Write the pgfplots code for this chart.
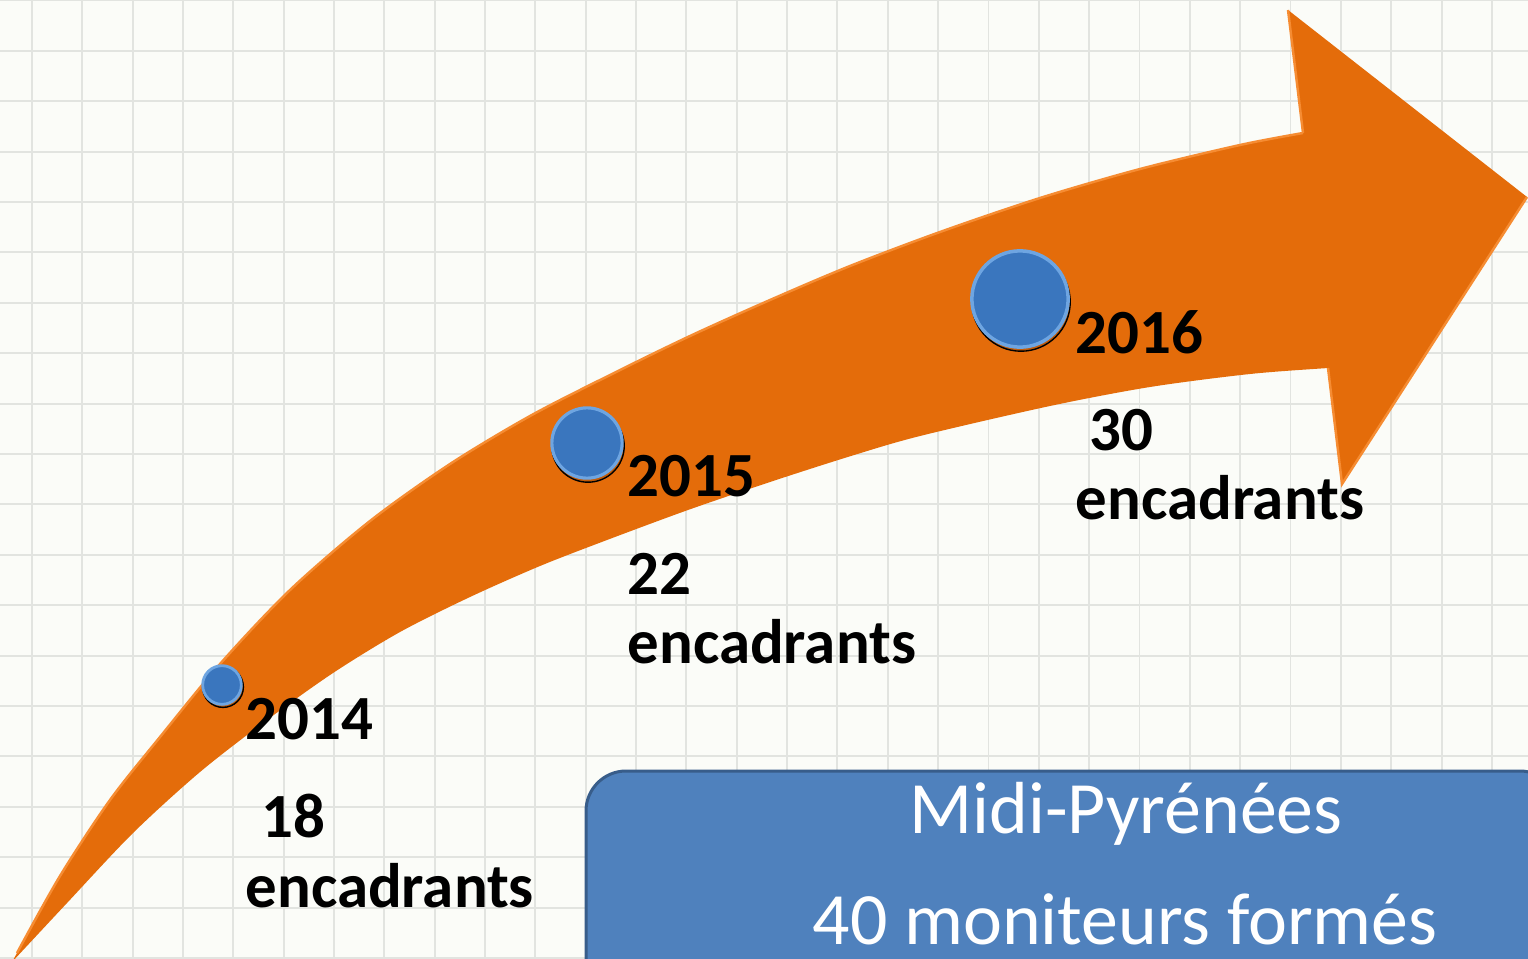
\documentclass[border=0pt]{standalone}
\usepackage{pgfplots}
\pgfplotsset{compat=1.18}
\usepackage{fontspec}
\setmainfont{Carlito}
\definecolor{bgc}{RGB}{251,252,248}
\definecolor{gridc}{RGB}{226,228,224}
\definecolor{arrowc}{RGB}{228,108,10}
\definecolor{arrowhl}{RGB}{246,140,50}
\definecolor{ballc}{RGB}{58,118,190}
\definecolor{ballrim}{RGB}{110,165,225}
\definecolor{boxc}{RGB}{79,129,189}
\definecolor{boxb}{RGB}{56,93,138}
\begin{document}
\begin{tikzpicture}
\begin{axis}[
  scale only axis, width=15.28cm, height=9.58cm,
  xmin=0, xmax=1528, ymin=0, ymax=958, y dir=reverse,
  axis background/.style={fill=bgc},
  axis line style={draw=none},
  tick style={draw=none},
  xticklabels={}, yticklabels={},
  xtick={32,82.34,...,1528},
  ytick={0.4,50.8,...,958},
  grid=major,
  major grid style={draw=gridc, line width=0.55pt},
]
% arrow body
\addplot[fill=arrowc, draw=none, smooth, tension=0.5] coordinates {
 (12,962) (17,953) (60,876) (110,800) (160,737) (220,664) (290,590) (370,521)
 (450,464) (530,416) (610,375) (690,336) (770,300) (850,266) (940,232)
 (1040,198) (1140,169) (1240,145) (1303,133) (1360,122) (1378,245)
 (1360,366) (1328,368) (1250,374) (1150,387) (1050,406) (920,436) (851,456)
 (770,482) (688,510) (607,540) (540,566) (470,597) (400,632) (333,673)
 (267,720) (200,772) (133,833) (67,903) (12,962)};
% arrow head
\addplot[fill=arrowc, draw=none] coordinates {
 (1288,10) (1527,197) (1342,484) (1328,368) (1303,133) (1288,10)};
% bevel highlight
\addplot[draw=arrowhl, line width=0.7pt, smooth, tension=0.5] coordinates {
 (17,953) (60,876) (110,800) (160,737) (220,664) (290,590) (370,521)
 (450,464) (530,416) (610,375) (690,336) (770,300) (850,266) (940,232)
 (1040,198) (1140,169) (1240,145) (1303,133)};
\addplot[draw=arrowhl, line width=0.7pt] coordinates {(1303,133) (1288,10)};
\addplot[draw=arrowhl, line width=0.7pt] coordinates {(1328,368) (1342,484) (1527,197)};
% ball shadows
\addplot[only marks, mark=*, mark options={fill=black, draw=none, fill opacity=0.15}, mark size=5.8pt] coordinates {(223,687)};
\addplot[only marks, mark=*, mark options={fill=black, draw=none, fill opacity=0.15}, mark size=10.3pt] coordinates {(588,446)};
\addplot[only marks, mark=*, mark options={fill=black, draw=none, fill opacity=0.15}, mark size=14pt] coordinates {(1021,302)};
% balls (value: 18, 22, 30 encadrants)
\addplot[only marks, mark=*, mark options={fill=ballc, draw=ballrim, line width=0.8pt}, mark size=5.5pt] coordinates {(222,685)};
\addplot[only marks, mark=*, mark options={fill=ballc, draw=ballrim, line width=0.9pt}, mark size=10pt] coordinates {(587,443)};
\addplot[only marks, mark=*, mark options={fill=ballc, draw=ballrim, line width=1pt}, mark size=13.7pt] coordinates {(1020,299)};
% labels
\begin{scope}[every node/.style={font=\fontsize{17.9}{20}\selectfont\bfseries, anchor=base west, inner sep=0pt}]
\node at (axis cs:245,739) {2014};
\node at (axis cs:261,837) {18};
\node at (axis cs:245,907) {encadrants};
\node at (axis cs:627,496) {2015};
\node at (axis cs:627,594) {22};
\node at (axis cs:627,663) {encadrants};
\node at (axis cs:1075,353) {2016};
\node at (axis cs:1089,450) {30};
\node at (axis cs:1075,519) {encadrants};
\end{scope}
% box
\fill[boxc, draw=boxb, line width=0.85pt, rounded corners=0.4cm]
  (axis cs:586,1000) -- (axis cs:586,771) -- (axis cs:1560,771) -- (axis cs:1560,1000) -- cycle;
\node[font=\fontsize{21}{24}\selectfont, text=white, anchor=base, inner sep=0pt] at (axis cs:1126,833) {Midi-Pyrénées};
\node[font=\fontsize{21}{24}\selectfont, text=white, anchor=base, inner sep=0pt] at (axis cs:1125,944) {40 moniteurs formés};
\end{axis}
\pgfresetboundingbox
\path[use as bounding box] (current axis.south west) rectangle (current axis.north east);
\end{tikzpicture}
\end{document}
